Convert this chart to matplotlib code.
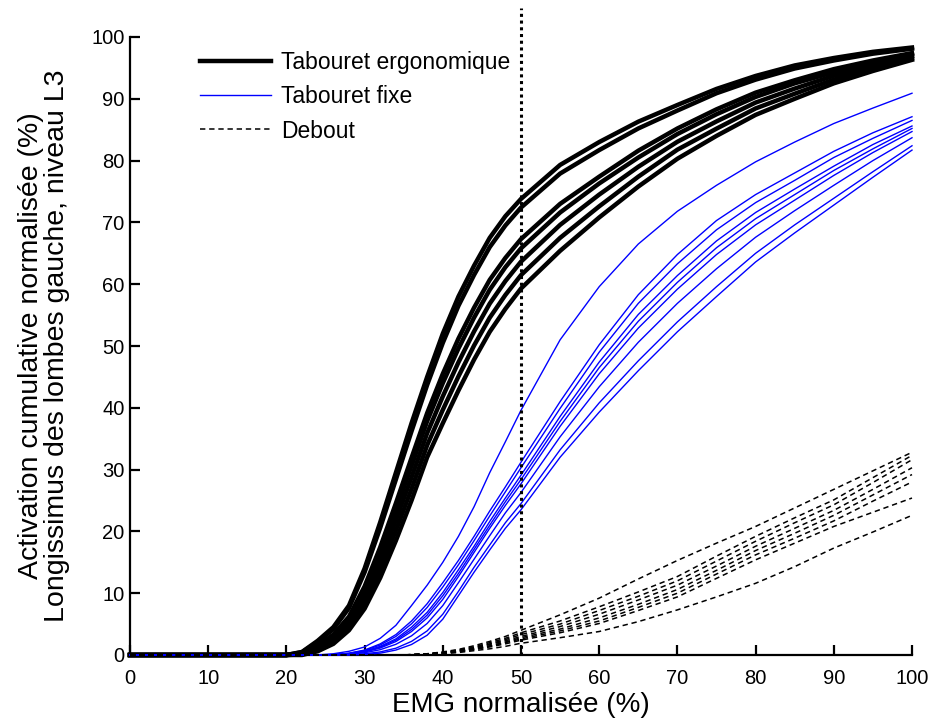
import matplotlib
matplotlib.use("Agg")
import matplotlib.pyplot as plt

# ---------------- data ----------------
emg = [0, 10, 20, 22, 24, 26, 28, 30, 32, 34, 36, 38, 40, 42, 44, 46, 48, 50,
       55, 60, 65, 70, 75, 80, 85, 90, 95, 100]

# Tabouret ergonomique (7 curves)
ergo_1 = [0, 0, 0, 0.5, 2.3, 4.5, 8, 14, 21.5, 29.5, 37.5, 45, 52, 58, 63, 67.5, 71, 73.8,
          79.3, 83, 86.3, 89, 91.6, 93.7, 95.4, 96.6, 97.6, 98.3]
ergo_2 = [0, 0, 0, 0.45, 2.1, 4.2, 7.6, 13.4, 20.6, 28.4, 36.2, 43.7, 50.5, 56.5, 61.5, 66, 69.5, 72.4,
          77.9, 81.7, 85.2, 88.1, 90.9, 93.1, 94.9, 96.2, 97.3, 98.1]
ergo_3 = [0, 0, 0, 0.28, 1.53, 3.3, 6.2, 11.1, 17.45, 24.55, 31.9, 39.15, 45.5, 51.2, 56.2, 60.7, 64.25, 67.3,
          73, 77.4, 81.6, 85.2, 88.3, 91, 93, 94.8, 96.2, 97.4]
ergo_4 = [0, 0, 0, 0.23, 1.36, 3.0, 5.8, 10.4, 16.55, 23.45, 30.6, 37.85, 44.0, 49.6, 54.6, 59.1, 62.75, 65.8,
          71.6, 76.3, 80.5, 84.3, 87.5, 90.3, 92.5, 94.3, 95.9, 97.2]
ergo_5 = [0, 0, 0, 0.15, 1.11, 2.61, 5.2, 9.45, 15.2, 21.8, 28.75, 35.9, 41.85, 47.36, 52.36, 56.86, 60.5, 63.65,
          69.6, 74.5, 79.0, 83.05, 86.34, 89.39, 91.65, 93.73, 95.43, 96.9]
ergo_6 = [0, 0, 0, 0.08, 0.86, 2.2, 4.6, 8.47, 13.85, 20.15, 26.87, 33.95, 39.67, 45.08, 50.08, 54.58, 58.25, 61.47,
          67.5, 72.6, 77.4, 81.77, 85.17, 88.44, 90.82, 93.11, 94.96, 96.6]
ergo_7 = [0, 0, 0, 0, 0.6, 1.8, 4, 7.5, 12.5, 18.5, 25, 32, 37.5, 42.8, 47.8, 52.3, 56, 59.3,
          65.4, 70.8, 75.8, 80.3, 84, 87.4, 90, 92.5, 94.5, 96.3]

# Tabouret fixe (9 curves)
fixe_1 = [0, 0, 0, 0, 0, 0.2, 0.6, 1.3, 2.7, 4.8, 8, 11.3, 15, 19.2, 24, 29.5, 34.5, 39.6,
          51, 59.6, 66.5, 71.8, 76, 79.8, 83, 86, 88.5, 90.9]
fixe_2 = [0, 0, 0, 0, 0, 0.05, 0.3, 0.8, 1.8, 3.3, 5.5, 8.3, 11.7, 15.3, 19.2, 23.3, 27.2, 31.2,
          41, 50.2, 58.3, 64.8, 70.3, 74.5, 78, 81.5, 84.5, 87.1]
fixe_3 = [0, 0, 0, 0, 0, 0.04, 0.26, 0.72, 1.62, 3.0, 5.04, 7.69, 11.0, 14.6, 18.5, 22.5, 26.4, 30.3,
          39.9, 49.0, 56.9, 63.3, 68.8, 73.2, 76.8, 80.5, 83.6, 86.5]
fixe_4 = [0, 0, 0, 0, 0, 0.04, 0.22, 0.61, 1.4, 2.6, 4.5, 6.9, 10.1, 13.8, 17.6, 21.6, 25.4, 29.1,
          38.6, 47.4, 55.1, 61.4, 67.0, 71.6, 75.4, 79.1, 82.6, 85.6]
fixe_5 = [0, 0, 0, 0, 0, 0.03, 0.19, 0.55, 1.26, 2.4, 4.13, 6.46, 9.58, 13.2, 17.1, 21.0, 24.8, 28.4,
          37.8, 46.5, 54.0, 60.3, 65.9, 70.6, 74.5, 78.4, 81.9, 85.2]
fixe_6 = [0, 0, 0, 0, 0, 0.03, 0.17, 0.49, 1.13, 2.18, 3.8, 6.0, 9.0, 12.7, 16.6, 20.5, 24.2, 27.7,
          37.0, 45.5, 52.9, 59.2, 64.8, 69.6, 73.6, 77.6, 81.3, 84.7]
fixe_7 = [0, 0, 0, 0, 0, 0.02, 0.11, 0.36, 0.86, 1.73, 3.1, 5.1, 8.0, 11.7, 15.5, 19.3, 23.0, 26.3,
          35.3, 43.4, 50.6, 56.9, 62.5, 67.6, 71.9, 76.0, 80.0, 83.7]
fixe_8 = [0, 0, 0, 0, 0, 0.01, 0.04, 0.19, 0.5, 1.1, 2.2, 3.9, 6.6, 10.3, 14.2, 17.8, 21.4, 24.5,
          33.2, 40.8, 47.6, 53.9, 59.6, 65.0, 69.6, 73.9, 78.2, 82.4]
fixe_9 = [0, 0, 0, 0, 0, 0, 0, 0.1, 0.3, 0.8, 1.7, 3.2, 5.8, 9.6, 13.4, 17, 20.5, 23.5,
          32, 39.3, 46, 52.3, 58, 63.6, 68.3, 72.8, 77.3, 81.7]

# Debout (8 curves)
debout_1 = [0, 0, 0, 0, 0, 0, 0, 0, 0, 0, 0.05, 0.2, 0.5, 0.9, 1.5, 2.2, 3.0, 4.0,
            6.5, 9.2, 12.3, 15.3, 18.1, 20.8, 23.8, 26.8, 29.8, 32.8]
debout_2 = [0, 0, 0, 0, 0, 0, 0, 0, 0, 0, 0.05, 0.2, 0.45, 0.8, 1.3, 2.0, 2.7, 3.6,
            5.5, 7.8, 10.2, 12.7, 16.0, 19.2, 22.2, 25.1, 28.7, 32.3]
debout_3 = [0, 0, 0, 0, 0, 0, 0, 0, 0, 0, 0.05, 0.15, 0.4, 0.7, 1.2, 1.8, 2.5, 3.3,
            5.0, 7.2, 9.5, 12.0, 15.2, 18.4, 21.4, 24.3, 27.9, 31.6]
debout_4 = [0, 0, 0, 0, 0, 0, 0, 0, 0, 0, 0.05, 0.15, 0.35, 0.7, 1.1, 1.7, 2.3, 3.0,
            4.6, 6.6, 8.9, 11.3, 14.4, 17.6, 20.5, 23.4, 26.8, 30.3]
debout_5 = [0, 0, 0, 0, 0, 0, 0, 0, 0, 0, 0.05, 0.1, 0.3, 0.6, 1.0, 1.5, 2.1, 2.8,
            4.2, 6.0, 8.2, 10.6, 13.7, 16.9, 19.7, 22.6, 25.9, 29.2]
debout_6 = [0, 0, 0, 0, 0, 0, 0, 0, 0, 0, 0.05, 0.1, 0.3, 0.6, 0.9, 1.4, 2.0, 2.6,
            3.9, 5.5, 7.7, 10.0, 13.1, 16.2, 18.9, 21.7, 24.9, 28.0]
debout_7 = [0, 0, 0, 0, 0, 0, 0, 0, 0, 0, 0.05, 0.1, 0.3, 0.5, 0.9, 1.3, 1.8, 2.4,
            3.6, 5.1, 7.2, 9.4, 12.4, 15.4, 18.1, 20.8, 23.1, 25.4]
debout_8 = [0, 0, 0, 0, 0, 0, 0, 0, 0, 0, 0.05, 0.1, 0.2, 0.4, 0.7, 1.0, 1.4, 1.9,
            2.8, 3.8, 5.4, 7.3, 9.4, 11.6, 14.3, 17.3, 19.9, 22.6]

ergo_curves = [ergo_1, ergo_2, ergo_3, ergo_4, ergo_5, ergo_6, ergo_7]
fixe_curves = [fixe_1, fixe_2, fixe_3, fixe_4, fixe_5, fixe_6, fixe_7, fixe_8, fixe_9]
debout_curves = [debout_1, debout_2, debout_3, debout_4, debout_5, debout_6, debout_7, debout_8]

labels = ["Tabouret ergonomique", "Tabouret fixe", "Debout"]
seuil = 50
xticks = list(range(0, 101, 10))
yticks = list(range(0, 101, 10))
xlabel = "EMG normalisée (%)"
ylabel = "Activation cumulative normalisée (%)\nLongissimus des lombes gauche, niveau L3"

# ---------------- figure ----------------
plt.rcParams['font.family'] = ['Liberation Sans', 'DejaVu Sans']

fig = plt.figure(figsize=(9.32, 7.23), dpi=100)
ax = fig.add_axes([130 / 932, 68 / 723, 782 / 932, 618 / 723])

h_ergo = h_fixe = h_deb = None
for c in ergo_curves:
    h_ergo, = ax.plot(emg, c, color='black', lw=3.2, solid_joinstyle='round', clip_on=False, zorder=3)
for c in fixe_curves:
    h_fixe, = ax.plot(emg, c, color='#0000ff', lw=1.0, clip_on=False, zorder=3)
for c in debout_curves:
    h_deb, = ax.plot(emg, c, color='black', lw=1.1, ls=(0, (3.5, 2.5)), clip_on=False, zorder=3)

ax.axvline(seuil, ymin=0, ymax=1.047, color='black', lw=2.2, ls=(0, (1, 1.2)), clip_on=False, zorder=4)

ax.set_xlim(0, 100)
ax.set_ylim(0, 100)
ax.set_xticks(xticks)
ax.set_yticks(yticks)
ax.spines['top'].set_visible(False)
ax.spines['right'].set_visible(False)
for s in ('left', 'bottom'):
    ax.spines[s].set_linewidth(1.6)
ax.tick_params(direction='in', length=7, width=1.6, labelsize=14.5, colors='black')
ax.tick_params(axis='x', pad=10)
ax.tick_params(axis='y', pad=4)

ax.set_xlabel(xlabel, fontsize=20, labelpad=3)
ax.set_ylabel(ylabel, fontsize=20.5, labelpad=15, linespacing=1.0)

leg = ax.legend([h_ergo, h_fixe, h_deb], labels, loc='upper left',
                bbox_to_anchor=(70 / 782, 0.978), frameon=False, fontsize=16.5,
                handlelength=3.1, handletextpad=0.42, labelspacing=0.5,
                borderaxespad=0, borderpad=0)

fig.savefig("out.png", dpi=100)
